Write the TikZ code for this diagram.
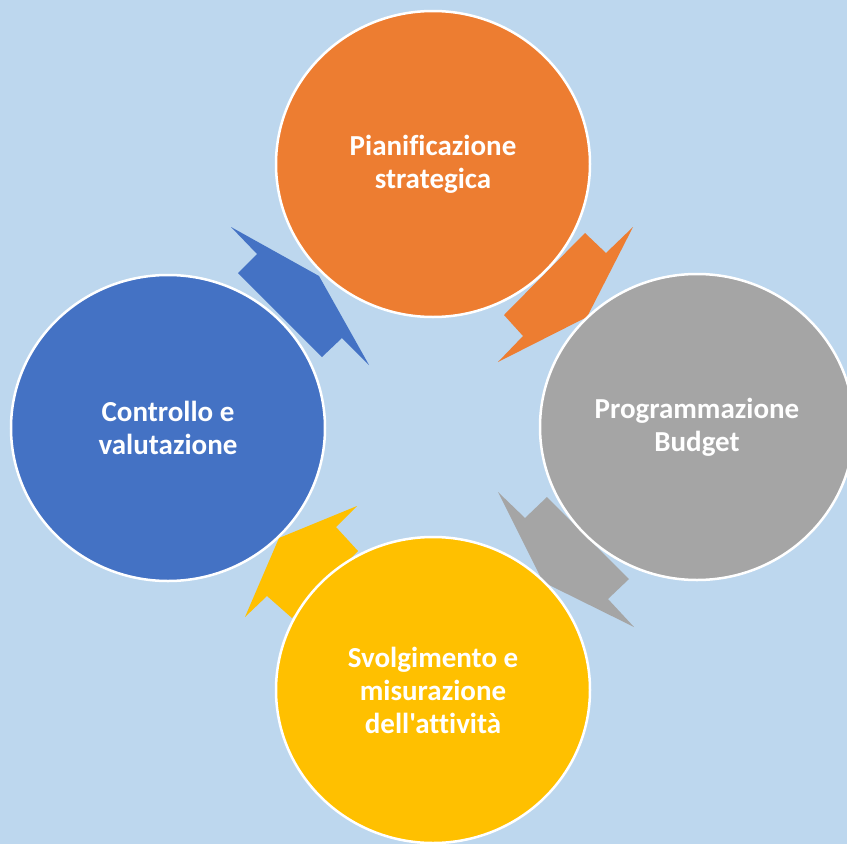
\documentclass[tikz,border=0pt]{standalone}
\usepackage{fontspec}
\newfontfamily\calfont{Carlito}[Ligatures={NoCommon,NoContextual}]
\usetikzlibrary{shapes.geometric}
\definecolor{bg}{HTML}{BDD7EE}
\definecolor{corange}{HTML}{ED7D31}
\definecolor{cgray}{HTML}{A5A5A5}
\definecolor{cblue}{HTML}{4472C4}
\definecolor{cyellow}{HTML}{FFC000}
\begin{document}
\begin{tikzpicture}[x=1pt,y=-1pt,
  stage/.style={ellipse, minimum width=314pt, minimum height=306pt, draw=white,
    line width=2.5pt, text=white, align=center, inner sep=0pt,
    font=\calfont\fontsize{29}{33}\selectfont\bfseries}]
\fill[bg] (0,0) rectangle (847,844);
\useasboundingbox (0,0) rectangle (847,844);
% block arrows (behind the circles)
\fill[corange] (585,233) -- (606,253) -- (633,227) -- (587,317) -- (498,362) -- (523,336) -- (504,315) -- cycle;
\fill[cgray] (498,492) -- (525,518) -- (547,497) -- (629,579) -- (608,599) -- (634,627) -- (543,582) -- cycle;
\fill[cyellow] (357,506) -- (336,527) -- (358,551) -- (292,618) -- (267,596) -- (245,617) -- (279,538) -- cycle;
\fill[cblue] (231,227) -- (257,254) -- (238,273) -- (322,357) -- (342,338) -- (369,365) -- (319,276) -- cycle;
% circles
\node[stage, fill=corange] (plan) at (433,164) {Pianificazione\\strategica};
\node[stage, fill=cgray] (prog) at (697,427) {Programmazione\\Budget};
\node[stage, fill=cyellow] (svol) at (433,690) {Svolgimento e\\misurazione\\dell'attività};
\node[stage, fill=cblue] (ctrl) at (168,428) {Controllo e\\valutazione};
\end{tikzpicture}
\end{document}
